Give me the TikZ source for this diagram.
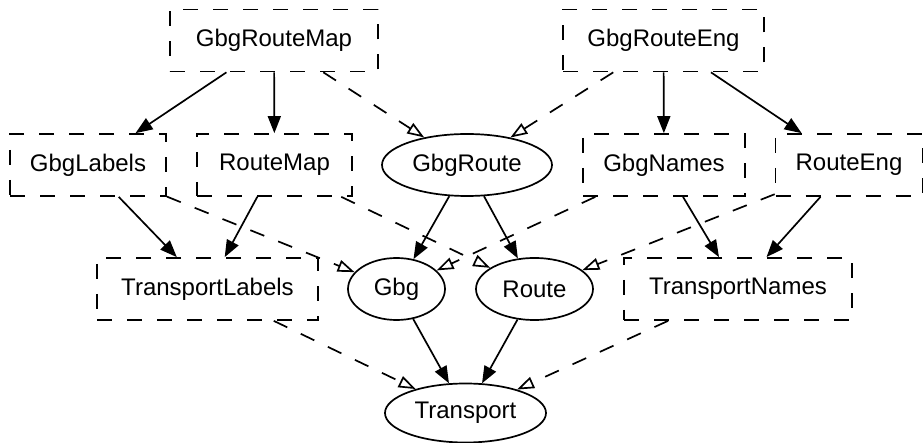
\documentclass[tikz,border=0pt]{standalone}
\usepackage{fontspec}
\setmainfont{Liberation Sans}
\usetikzlibrary{arrows.meta,shapes.geometric}
\begin{document}
\begin{tikzpicture}[x=1pt,y=-1pt,
  lbl/.style={font=\fontsize{24}{28}\selectfont},
  box/.style={lbl, draw, rectangle, line width=1.7pt, dash pattern=on 15pt off 15pt, minimum height=62pt, inner sep=0pt},
  oval/.style={lbl, draw, ellipse, line width=1.7pt, solid, minimum height=62pt, inner sep=0pt},
  dep/.style={line width=1.7pt, -{Triangle[length=17pt,width=13pt]}},
  inh/.style={line width=1.7pt, dash pattern=on 15pt off 15pt, -{Triangle[open,length=17pt,width=12pt,fill=white]}}]
\useasboundingbox (0,0) rectangle (924,443);
\node[box, minimum width=208pt] (grm) at (274,40.5) {GbgRouteMap};
\node[box, minimum width=201pt] (gre) at (663.5,40.5) {GbgRouteEng};
\node[box, minimum width=156pt] (gl) at (88,165) {GbgLabels};
\node[box, minimum width=155pt] (rm) at (274.5,165) {RouteMap};
\node[oval, minimum width=170pt] (gr) at (467,165) {GbgRoute};
\node[box, minimum width=162pt] (gn) at (664,165) {GbgNames};
\node[box, minimum width=147pt] (re) at (849,165) {RouteEng};
\node[box, minimum width=221pt] (tl) at (207.5,289) {TransportLabels};
\node[oval, minimum width=97pt] (g) at (396.5,289) {Gbg};
\node[oval, minimum width=117pt] (r) at (534.5,289) {Route};
\node[box, minimum width=228pt] (tn) at (738,289) {TransportNames};
\node[oval, minimum width=161pt, minimum height=59pt] (t) at (465.5,413) {Transport};
\draw[dep] (grm) -- (gl);
\draw[dep] (grm) -- (rm);
\draw[inh] (grm) -- (gr);
\draw[inh] (gre) -- (gr);
\draw[dep] (gre) -- (gn);
\draw[dep] (gre) -- (re);
\draw[dep] (gl) -- (tl);
\draw[dep] (rm) -- (tl);
\draw[inh] (gl) -- (g);
\draw[inh] (rm) -- (r);
\draw[dep] (gr) -- (g);
\draw[dep] (gr) -- (r);
\draw[inh] (gn) -- (g);
\draw[inh] (re) -- (r);
\draw[dep] (gn) -- (tn);
\draw[dep] (re) -- (tn);
\draw[inh] (tl) -- (t);
\draw[dep] (g) -- (t);
\draw[dep] (r) -- (t);
\draw[inh] (tn) -- (t);
\end{tikzpicture}
\end{document}
